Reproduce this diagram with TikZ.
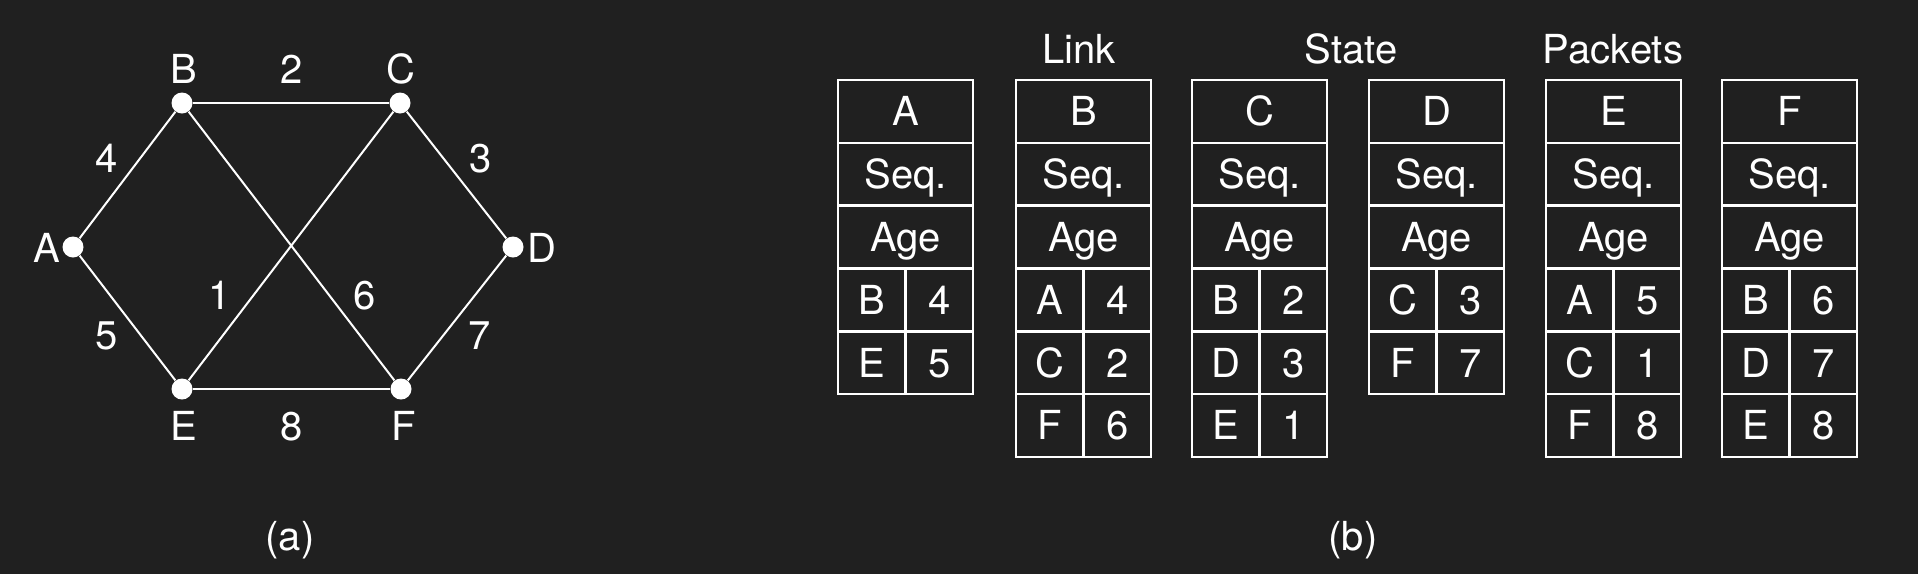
\documentclass[tikz,border=0pt]{standalone}
\usepackage{fontspec}
\setmainfont{TeX Gyre Heros}
\definecolor{bg}{RGB}{32,32,32}
\begin{document}
\begin{tikzpicture}[x=0.5pt,y=-0.5pt,
  txt/.style={text=white, inner sep=0pt, text height=14.4pt, text depth=0pt, font=\fontsize{20}{20}\selectfont},
  lbl/.style={txt},
  ttl/.style={txt},
  captxt/.style={text=white, inner sep=0pt, anchor=base, font=\fontsize{20}{20}\selectfont},
  dot/.style={circle, fill=white, minimum size=10.5pt, inner sep=0pt},
  edge/.style={draw=white, line width=1pt},
  cellbase/.style={txt, draw=white, line width=1.3pt, minimum height=31.4pt},
  wide/.style={cellbase, minimum width=67.5pt},
  half/.style={cellbase, minimum width=33.75pt},
]
\fill[bg] (0,0) rectangle (1918,574);
\useasboundingbox (0,0) rectangle (1918,574);

% graph (a)
\node[dot] (A) at (73,247) {};
\node[dot] (B) at (182,103) {};
\node[dot] (C) at (400,103) {};
\node[dot] (D) at (513,247) {};
\node[dot] (E) at (182,389) {};
\node[dot] (F) at (401,389) {};
\draw[edge] (A) -- (B);
\draw[edge] (B) -- (C);
\draw[edge] (C) -- (D);
\draw[edge] (D) -- (F);
\draw[edge] (F) -- (E);
\draw[edge] (E) -- (A);
\draw[edge] (B) -- (F);
\draw[edge] (C) -- (E);

\node[lbl] (lA) at (47,248) {A};
\node[lbl] (lB) at (184,69) {B};
\node[lbl] (lC) at (401,69) {C};
\node[lbl] (lD) at (542,248) {D};
\node[lbl] (lE) at (184,426) {E};
\node[lbl] (lF) at (404,426) {F};
\node[lbl] (w2) at (292,69) {2};
\node[lbl] (w4) at (107,158) {4};
\node[lbl] (w3) at (481,158) {3};
\node[lbl] (w1) at (220,295) {1};
\node[lbl] (w6) at (365,295) {6};
\node[lbl] (w5) at (107,335) {5};
\node[lbl] (w7) at (480,335) {7};
\node[lbl] (w8) at (292,426) {8};
\node[captxt] (capa) at (290,550) {(a)};

% titles
\node[ttl] (tLink) at (1079,49) {Link};
\node[ttl] (tState) at (1351,49) {State};
\node[ttl] (tPackets) at (1613,49) {Packets};

% tables (b)
\foreach \n/\lx/\pairs in {A/838/{B/4,E/5}, B/1016/{A/4,C/2,F/6}, C/1192/{B/2,D/3,E/1}, D/1369/{C/3,F/7}, E/1546/{A/5,C/1,F/8}, F/1722/{B/6,D/7,E/8}}{
  \node[wide] (t\n-h) at ({\lx+67.5},111.4) {\n};
  \node[wide] (t\n-s) at ({\lx+67.5},174.2) {Seq.};
  \node[wide] (t\n-a) at ({\lx+67.5},237.0) {Age};
  \foreach \p/\q [count=\k] in \pairs {
    \node[half] (t\n-l\k) at ({\lx+33.75},{111.4+62.8*(\k+2)}) {\p};
    \node[half] (t\n-r\k) at ({\lx+101.25},{111.4+62.8*(\k+2)}) {\q};
  }
}
\node[captxt] (capb) at (1353,550) {(b)};
\end{tikzpicture}
\end{document}
